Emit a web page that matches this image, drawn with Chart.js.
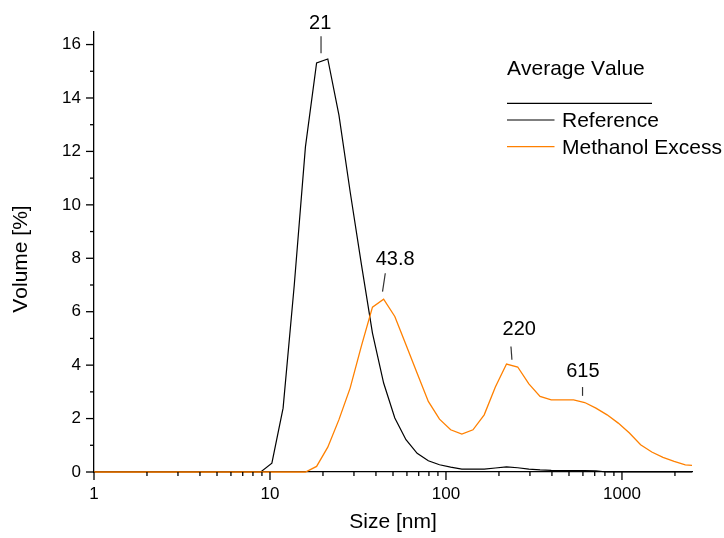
<!DOCTYPE html>
<html><head><meta charset="utf-8">
<script src="https://cdn.jsdelivr.net/npm/chart.js@4/dist/chart.umd.min.js"></script>
<style>html,body{margin:0;padding:0;background:#fff}#wrap{width:724px;height:538px}</style>
</head><body><div id="wrap"><canvas id="c" width="724" height="538"></canvas></div>
<script>
// ---- data ----
const sizes = [1.0, 8.86, 10.25, 11.87, 13.74, 15.90, 18.40, 21.30, 24.65, 28.53, 33.02, 38.22, 44.23, 51.20, 59.25, 68.58, 79.37, 91.87, 106.3, 123.1, 142.4, 164.9, 190.8, 220.8, 255.6, 295.8, 342.4, 396.3, 458.7, 530.9, 614.4, 711.2, 823.1, 952.7, 1102.6, 1276, 1477, 1710, 1979, 2290, 2651];
const referenceValues = [0, 0, 0.33, 2.39, 7.0, 12.17, 15.31, 15.46, 13.36, 10.5, 7.8, 5.2, 3.33, 2.02, 1.21, 0.70, 0.42, 0.27, 0.18, 0.11, 0.11, 0.11, 0.15, 0.19, 0.16, 0.11, 0.08, 0.06, 0.05, 0.05, 0.05, 0.04, 0, 0, 0, 0, 0, 0, 0, 0, 0];
const methanolValues = [0, 0, 0, 0, 0, 0, 0.21, 0.93, 1.96, 3.14, 4.70, 6.17, 6.47, 5.82, 4.76, 3.70, 2.64, 1.98, 1.58, 1.42, 1.58, 2.14, 3.18, 4.04, 3.93, 3.30, 2.83, 2.70, 2.70, 2.70, 2.60, 2.39, 2.14, 1.83, 1.46, 1.02, 0.75, 0.55, 0.40, 0.27, 0.23];
const seriesNames = ['Reference', 'Methanol Excess'];
const legendTitle = 'Average Value';
const xTitle = 'Size [nm]';
const yTitle = 'Volume [%]';
const xTickValues = [1,2,3,4,5,6,7,8,9,10,20,30,40,50,60,70,80,90,100,200,300,400,500,600,700,800,900,1000,2000];
const xTickLabels = {1:'1', 10:'10', 100:'100', 1000:'1000'};
const yTickValues = [0,1,2,3,4,5,6,7,8,9,10,11,12,13,14,15,16];
const peakTexts = ['21', '43.8', '220', '615'];
const peakLineX = [19.5, 43.6, 237, 597];
const peakLineTopX = [19.5, 45.2, 234, 597];
const peakLineBottom = [15.67, 6.75, 4.20, 2.85];
const peakLineTop = [16.31, 7.44, 4.70, 3.18];
const peakTextX = [19.3, 51.4, 261, 600];
const peakTextY = [16.57, 7.75, 5.13, 3.55];

const FONT = "Arial, 'Liberation Sans', sans-serif";
const BLACK = '#000000';
const ORANGE = '#ff8000';

function pts(vals){ return sizes.map((s,i)=>({x:s, y:vals[i]})); }

const decorPlugin = {
  id: 'decor',
  afterDraw(chart) {
    const ctx = chart.ctx;
    const xs = chart.scales.x, ys = chart.scales.y;
    const area = chart.chartArea;
    ctx.save();
    if ('fontKerning' in ctx) ctx.fontKerning = 'none';
    ctx.strokeStyle = '#000';
    ctx.lineWidth = 1.3;
    xTickValues.forEach(v => {
      const px = xs.getPixelForValue(v);
      const major = !!xTickLabels[v];
      ctx.beginPath();
      ctx.moveTo(px, xs.top);
      ctx.lineTo(px, xs.top + (major ? 8 : 4));
      ctx.stroke();
    });
    yTickValues.forEach(v => {
      const py = ys.getPixelForValue(v);
      const major = v % 2 === 0;
      ctx.beginPath();
      ctx.moveTo(ys.right, py);
      ctx.lineTo(ys.right - (major ? 8 : 4), py);
      ctx.stroke();
    });
    // y title
    ctx.fillStyle = '#000';
    ctx.font = '21px ' + FONT;
    ctx.save();
    ctx.translate(21, (area.top + area.bottom) / 2 + 7);
    ctx.rotate(-Math.PI / 2);
    ctx.textAlign = 'center';
    ctx.textBaseline = 'middle';
    ctx.fillText(yTitle, 0, 0);
    ctx.restore();
    // peak annotations
    ctx.font = '20px ' + FONT;
    ctx.textAlign = 'center';
    ctx.textBaseline = 'alphabetic';
    ctx.strokeStyle = '#333';
    ctx.lineWidth = 1.2;
    peakTexts.forEach((t,i) => {
      ctx.beginPath();
      ctx.moveTo(xs.getPixelForValue(peakLineX[i]), ys.getPixelForValue(peakLineBottom[i]));
      ctx.lineTo(xs.getPixelForValue(peakLineTopX[i]), ys.getPixelForValue(peakLineTop[i]));
      ctx.stroke();
      ctx.fillText(t, xs.getPixelForValue(peakTextX[i]), ys.getPixelForValue(peakTextY[i]));
    });
    // legend
    const lx = 507;
    ctx.font = '21px ' + FONT;
    ctx.textAlign = 'left';
    ctx.fillText(legendTitle, lx, 75);
    ctx.strokeStyle = '#000';
    ctx.lineWidth = 1.3;
    ctx.beginPath(); ctx.moveTo(lx, 103.3); ctx.lineTo(652, 103.3); ctx.stroke();
    const rows = [[BLACK, 120, 127.3], [ORANGE, 146.7, 154.3]];
    rows.forEach((r, i) => {
      ctx.strokeStyle = r[0];
      ctx.lineWidth = 1.2;
      ctx.beginPath(); ctx.moveTo(lx, r[1]); ctx.lineTo(554.5, r[1]); ctx.stroke();
      ctx.fillStyle = '#000';
      ctx.fillText(seriesNames[i], 562, r[2]);
    });
    ctx.restore();
  }
};

new Chart(document.getElementById('c'), {
  type: 'line',
  data: {
    datasets: [
      { label: seriesNames[1], data: pts(methanolValues), borderColor: ORANGE, borderWidth: 1.3, pointRadius: 0, tension: 0, fill: false, clip: { left: 0, top: 0, right: 0, bottom: 4 } },
      { label: seriesNames[0], data: pts(referenceValues), borderColor: BLACK, borderWidth: 1.2, pointRadius: 0, tension: 0, fill: false, clip: { left: 0, top: 0, right: 0, bottom: 4 } }
    ]
  },
  options: {
    responsive: false,
    animation: false,
    devicePixelRatio: 1,
    layout: { padding: { top: 32, right: 32, left: 0, bottom: 0 } },
    plugins: { legend: { display: false }, tooltip: { enabled: false } },
    scales: {
      x: {
        type: 'logarithmic', min: 1, max: 2500,
        afterBuildTicks: s => { s.ticks = xTickValues.map(v => ({ value: v, major: !!xTickLabels[v] })); },
        afterFit: s => { s.height = 66; },
        grid: { display: false, drawTicks: true, tickLength: 8 },
        border: { display: true, color: '#000', width: 1.3 },
        ticks: { autoSkip: false, maxRotation: 0, padding: 4, color: '#000', font: { family: FONT, size: 17 },
          callback: v => xTickLabels[v] || '' },
        title: { display: true, text: xTitle, color: '#000', font: { family: FONT, size: 21 }, padding: { top: 0, bottom: 3 } }
      },
      y: {
        type: 'linear', min: 0, max: 16.47,
        afterBuildTicks: s => { s.ticks = yTickValues.map(v => ({ value: v })); },
        afterFit: s => { s.width = 94; },
        grid: { display: false, drawTicks: true, tickLength: 8 },
        border: { display: true, color: '#000', width: 1.3 },
        ticks: { autoSkip: false, padding: 5, color: '#000', font: { family: FONT, size: 17 },
          callback: v => (v % 2 === 0 ? String(v) : '') },
        title: { display: false }
      }
    }
  },
  plugins: [decorPlugin]
});
</script></body></html>
